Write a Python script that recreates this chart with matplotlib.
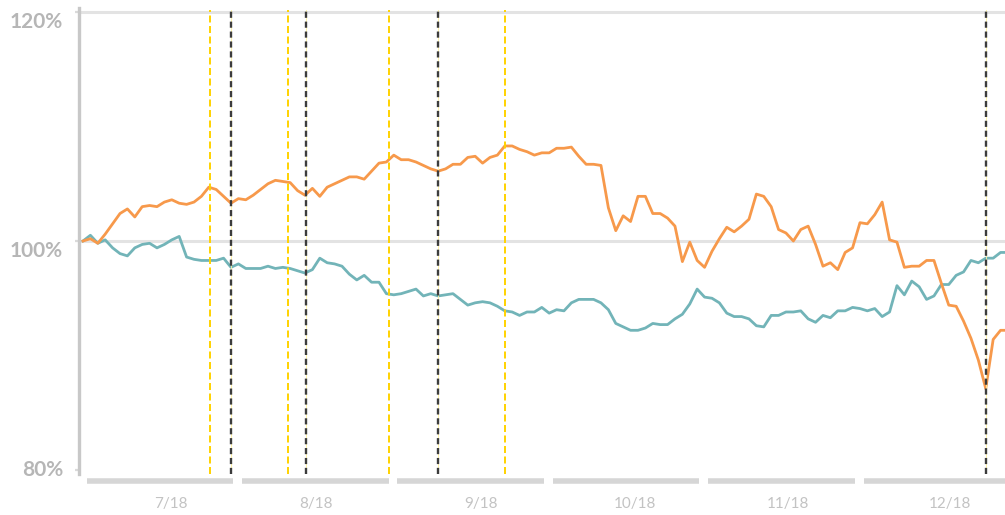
import numpy as np
import matplotlib
matplotlib.use("Agg")
import matplotlib.pyplot as plt
import matplotlib.transforms as mtransforms

# daily relative performance (%), one value per trading day, Jul-Dec 2018
orange_vals = [
    100.0, 100.2, 99.8, 100.6, 101.5, 102.4, 102.8, 102.1, 103.0, 103.1,
    103.0, 103.4, 103.6, 103.3, 103.2, 103.4, 103.9, 104.7, 104.5, 103.9,
    103.3, 103.7, 103.6, 104.0, 104.5, 105.0, 105.3, 105.2, 105.1, 104.4,
    104.0, 104.6, 103.9, 104.7, 105.0, 105.3, 105.6, 105.6, 105.4, 106.1,
    106.8, 106.9, 107.5, 107.1, 107.1, 106.9, 106.6, 106.3, 106.1, 106.3,
    106.7, 106.7, 107.3, 107.4, 106.8, 107.3, 107.5, 108.3, 108.3, 108.0,
    107.8, 107.5, 107.7, 107.7, 108.1, 108.1, 108.2, 107.4, 106.7, 106.7,
    106.6, 102.9, 100.9, 102.2, 101.7, 103.9, 103.9, 102.4, 102.4, 102.0,
    101.3, 98.2, 99.9, 98.3, 97.7, 99.1, 100.2, 101.2, 100.8, 101.3,
    101.9, 104.1, 103.9, 103.0, 101.0, 100.7, 100.0, 101.0, 101.3, 99.7,
    97.8, 98.1, 97.5, 99.0, 99.4, 101.6, 101.5, 102.3, 103.4, 100.1,
    99.9, 97.7, 97.8, 97.8, 98.3, 98.3, 96.3, 94.4, 94.3, 93.0,
    91.5, 89.6, 87.1, 91.4, 92.2, 92.2,
]
teal_vals = [
    100.0, 100.5, 99.8, 100.1, 99.4, 98.9, 98.7, 99.4, 99.7, 99.8,
    99.4, 99.7, 100.1, 100.4, 98.6, 98.4, 98.3, 98.3, 98.3, 98.5,
    97.7, 98.0, 97.6, 97.6, 97.6, 97.8, 97.6, 97.7, 97.6, 97.4,
    97.2, 97.5, 98.5, 98.1, 98.0, 97.8, 97.1, 96.6, 97.0, 96.4,
    96.4, 95.4, 95.3, 95.4, 95.6, 95.8, 95.2, 95.4, 95.2, 95.3,
    95.4, 94.9, 94.4, 94.6, 94.7, 94.6, 94.3, 93.9, 93.8, 93.5,
    93.8, 93.8, 94.2, 93.7, 94.0, 93.9, 94.6, 94.9, 94.9, 94.9,
    94.6, 94.0, 92.8, 92.5, 92.2, 92.2, 92.4, 92.8, 92.7, 92.7,
    93.2, 93.6, 94.5, 95.8, 95.1, 95.0, 94.6, 93.7, 93.4, 93.4,
    93.2, 92.6, 92.5, 93.5, 93.5, 93.8, 93.8, 93.9, 93.2, 92.9,
    93.5, 93.3, 93.9, 93.9, 94.2, 94.1, 93.9, 94.1, 93.4, 93.8,
    96.1, 95.3, 96.5, 96.0, 94.9, 95.2, 96.2, 96.2, 97.0, 97.3,
    98.3, 98.1, 98.5, 98.5, 99.0, 99.0,
]

# event markers (trading-day index)
yellow_events = [17.2, 27.7, 41.4, 57.0]
dark_events = [20.0, 30.1, 48.0, 122.0]

month_labels = ["7/18", "8/18", "9/18", "10/18", "11/18", "12/18"]
month_label_pos = [11.9, 31.5, 53.8, 74.6, 95.3, 117.2]
days_per_month = 21

y_ticks = [80, 100, 120]

ORANGE = "#f7994b"
TEAL = "#72b4b8"
YELLOW = "#ffd200"
DARK = "#3c3c3c"
GRID = "#e3e3e3"
AXIS = "#c8c8c8"

fig = plt.figure(figsize=(10.05, 5.15), dpi=100)
ax = fig.add_axes([79 / 1005, 1 - 474 / 515, 1 - 79 / 1005, 466 / 515])

x = np.arange(len(orange_vals))
ax.set_xlim(-0.54, 124.6)
ax.set_ylim(79.65, 120.35)

for v in (100, 120):
    ax.axhline(v, color=GRID, lw=2.2, zorder=1)

ax.plot(x, teal_vals, color=TEAL, lw=2.0, zorder=3, solid_joinstyle="round")
ax.plot(x, orange_vals, color=ORANGE, lw=2.0, zorder=3, solid_joinstyle="round")

for e in yellow_events:
    ax.axvline(e, ymin=0.0, ymax=0.995, color=YELLOW, lw=1.4,
               linestyle=(0, (3.6, 1.8)), zorder=4)
for e in dark_events:
    ax.axvline(e, ymin=0.0, ymax=0.995, color="#fff2a0", lw=0.6, zorder=4)
    ax.axvline(e, ymin=0.0, ymax=0.995, color=DARK, lw=1.7,
               linestyle=(0, (2.6, 1.6)), zorder=5)

# spines / ticks
for s in ("top", "right", "bottom"):
    ax.spines[s].set_visible(False)
ax.spines["left"].set_color(AXIS)
ax.spines["left"].set_linewidth(2.4)
ax.set_xticks([])
ax.set_yticks(y_ticks)
ax.set_yticklabels([])
ax.tick_params(axis="y", length=3, width=1.6, color="#dadada")

lbl_font = dict(family=["Lato", "DejaVu Sans"], color="#b6b6b6",
                fontsize=15, fontweight="bold")
to_left = mtransforms.blended_transform_factory(fig.transFigure, ax.transData)
for v in y_ticks:
    ax.text(63 / 1005, v, f"{v}%", transform=to_left, ha="right",
            va="center" if v == 80 else "top", **lbl_font)

# month bands under the plot
band = mtransforms.blended_transform_factory(ax.transData, ax.transAxes)
for k, lab in enumerate(month_labels):
    start = k * days_per_month - 0.1
    end = start + days_per_month
    ax.plot([start + 0.6, end - 0.6], [-0.016, -0.016], transform=band,
            color="#d6d6d6", lw=4, solid_capstyle="butt", clip_on=False)
    ax.text(month_label_pos[k], -0.065, lab, transform=band, ha="center",
            va="center", color="#c3c3c3", fontsize=11,
            family=["Lato", "DejaVu Sans"])

fig.savefig("out.png", dpi=100)
